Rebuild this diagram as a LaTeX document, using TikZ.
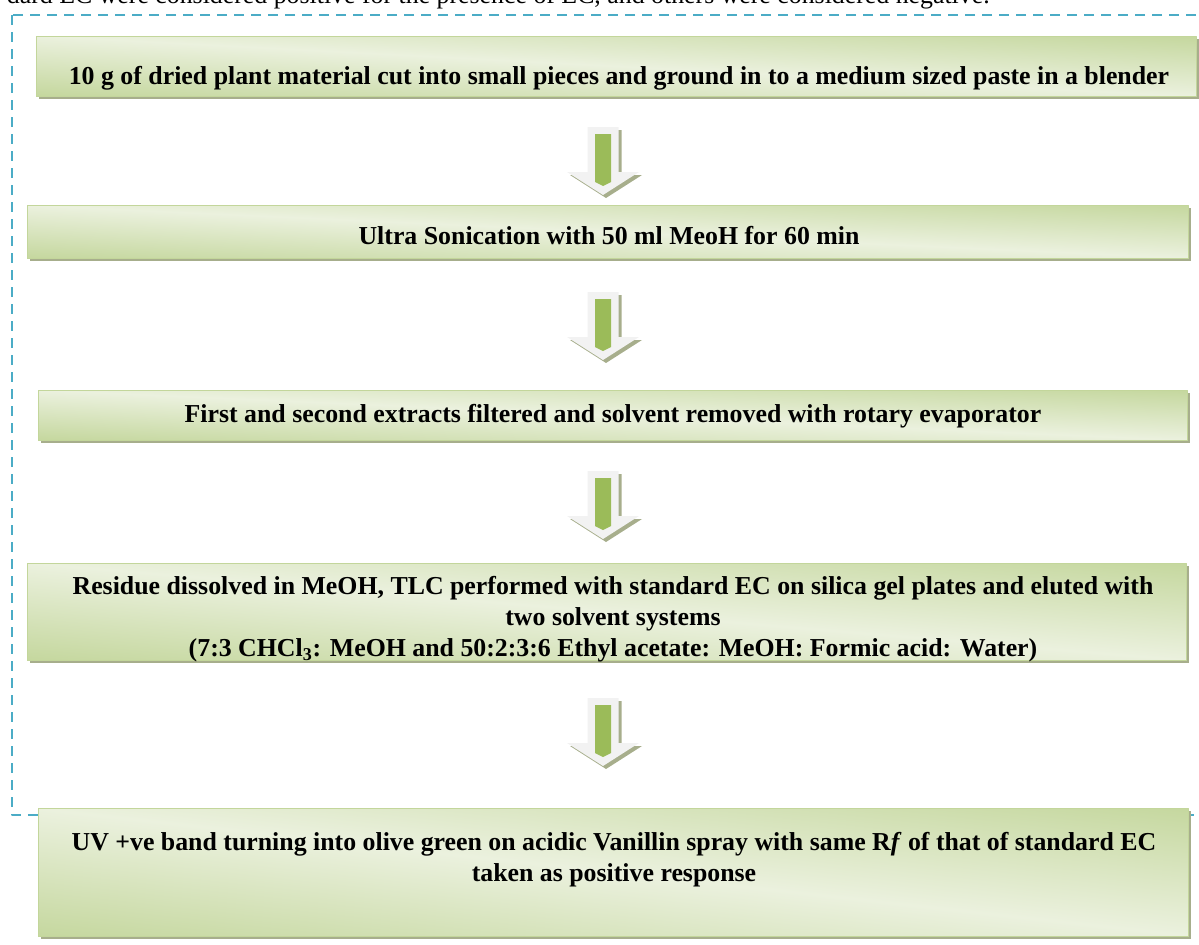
\documentclass[tikz,border=0pt]{standalone}
\usepackage{fontspec}
\setmainfont{Liberation Serif}
\usetikzlibrary{shadows,calc}
\definecolor{framecyan}{HTML}{4BACC6}
\definecolor{boxdark}{HTML}{C3D69B}
\definecolor{boxlight}{HTML}{EBF1DE}
\definecolor{boxshadow}{HTML}{A7AE8C}
\definecolor{arrowpale}{HTML}{F2F2F2}
\definecolor{arrowgreen}{HTML}{9BBB59}
\begin{document}
\begin{tikzpicture}[x=0.6pt,y=-0.6pt,line join=round]
	\tikzset{
		stepbox/.style={draw=boxdark, line width=0.6pt, inner sep=0pt,
			path picture={\shade[top color=boxdark, bottom color=boxdark, middle color=boxlight,
				transform canvas={rotate around={#1:(path picture bounding box.center)}}]
				($(path picture bounding box.south west)!-0.55!(path picture bounding box.north west)+(-40pt,0)$)
				rectangle
				($(path picture bounding box.north east)!-0.55!(path picture bounding box.south east)+(40pt,0)$);},
			drop shadow={shadow xshift=1.8pt, shadow yshift=-1.8pt, fill=boxshadow, opacity=1}},
		steptext/.style={align=center, inner sep=0pt, font=\bfseries\fontsize{15.5}{18.6}\selectfont},
		downarrow/.pic={
			\fill[boxshadow] (-12.5,-31)--(18.5,-31)--(18.5,14)--(39,14)--(3,37)--(-33,14)--(-12.5,14)--cycle;
			\fill[arrowpale] (-15.5,-34)--(15.5,-34)--(15.5,11)--(36,11)--(0,34)--(-36,11)--(-15.5,11)--cycle;
			\fill[arrowgreen] (-8,-27)--(8,-27)--(8,21)--(0,25)--(-8,21)--cycle;
		}
	}
	\useasboundingbox (0,0) rectangle (1199,944);
	% text of the page above the figure
	\node[anchor=base east, inner sep=0pt, font=\fontsize{15.5}{18}\selectfont] (pagetext) at (990,4)
		{dard EC were considered positive for the presence of EC, and others were considered negative.};
	\draw[framecyan, line width=1.5pt, dash pattern=on 6pt off 4.2pt] (12,15) rectangle (1215,815);
	% boxes
	\node[stepbox=-3, minimum width=1160*0.6pt, minimum height=60*0.6pt] (mill) at (616,66) {};
	\node[stepbox=-2.6, minimum width=1161*0.6pt, minimum height=53*0.6pt] (sonic) at (607.5,231.5) {};
	\node[stepbox=-2.5, minimum width=1149*0.6pt, minimum height=50*0.6pt] (evap) at (612.5,415) {};
	\node[stepbox=-4.8, minimum width=1159*0.6pt, minimum height=97*0.6pt] (tlc) at (606.5,611.5) {};
	\node[stepbox=-6.3, minimum width=1150*0.6pt, minimum height=128*0.6pt] (uv) at (613,872) {};
	% texts
	\node[steptext] (milltext) at (619,78) {10 g of dried plant material cut into small pieces and ground in to a medium sized paste in a blender};
	\node[steptext] (sonictext) at (609,236) {Ultra Sonication with 50 ml MeoH for 60 min};
	\node[steptext] (evaptext) at (613,416) {First and second extracts filtered and solvent removed with rotary evaporator};
	\node[steptext] (tlctext) at (613,619) {Residue dissolved in MeOH, TLC performed with standard EC on silica gel plates and eluted with\\
		two solvent systems\\
		(7:3 CHCl\textsubscript{3}: MeOH and 50:2:3:6 Ethyl acetate: MeOH: Formic acid: Water)};
	\node[steptext] (uvtext) at (614,860) {UV +ve band turning into olive green on acidic Vanillin spray with same R\textit{f} of that of standard EC\\
		taken as positive response};
	% arrows
	\foreach \y in {161,326,505,732}
	\pic at (603,\y) {downarrow};
\end{tikzpicture}
\end{document}
